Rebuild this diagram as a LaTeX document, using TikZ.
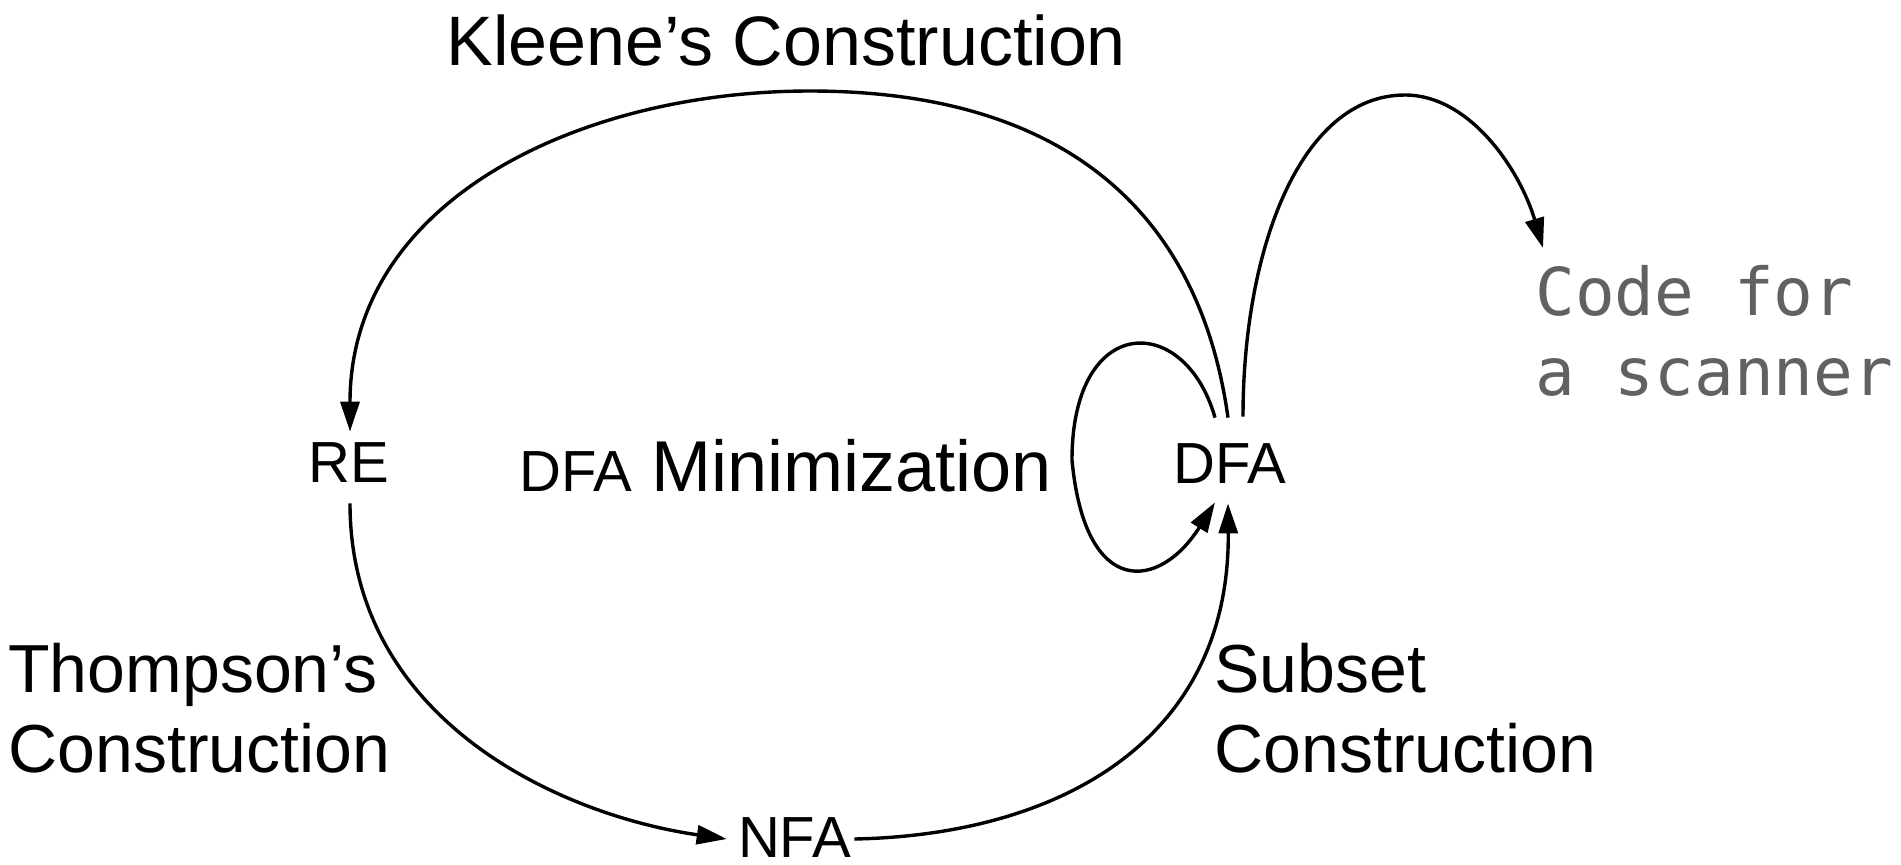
\documentclass[tikz,border=0pt]{standalone}
\usepackage{fontspec}
\setmainfont{Liberation Sans}
\newfontfamily\codefont{DejaVu Sans Mono}
\usetikzlibrary{arrows.meta,calc}
\begin{document}
\begin{tikzpicture}[x=0.5pt,y=-0.5pt,
  conn/.style={line width=1.7pt,-{Triangle[length=15pt,width=9.5pt]}},
  state/.style={inner xsep=4pt,inner ysep=10pt,font=\fontsize{29}{34}\selectfont,text height=21pt,text depth=0pt,anchor=base},
  lbl/.style={inner sep=0pt,font=\fontsize{34}{40}\selectfont,align=left,anchor=base west},
  codelbl/.style={inner sep=0pt,font=\codefont\fontsize{33}{40}\selectfont,text=black!62,align=left,anchor=base west}]
\useasboundingbox (0,0) rectangle (1901,864);
% states
\node[state] (re) at (349,482) {RE};
\node[state] (dfa) at (1230,483) {DFA};
\node[state,inner ysep=2pt] (nfa) at (794.5,857) {NFA};
% labels
\node[lbl,font=\fontsize{35}{40}\selectfont] (kleene) at (446,65) {Kleene’s Construction};
\node[lbl] (thompson) at (8,772) {Thompson’s\\Construction};
\node[lbl] (subset) at (1214,772) {Subset\\Construction};
\node[lbl] (mini) at (519,491) {{\fontsize{29}{34}\selectfont DFA} {\fontsize{36}{40}\selectfont Minimization}};
\node[codelbl] (code) at (1535,395) {Code for\\a scanner};
% connectors
\draw[conn] ($(dfa.north)+(-2,-3)$) .. controls (1200,217) and (1070,91) .. (810,91)
  .. controls (580,91) and (350,200) .. ($(re.north)+(1,12)$);
\draw[conn] ($(re.south)+(1,1)$) .. controls (350,720) and (560,815) .. ($(nfa.west)+(-3,3)$);
\draw[conn] ($(nfa.east)+(-5,3)$) .. controls (1060,835) and (1230,740) .. ($(dfa.south)+(-2,0)$);
\draw[conn] ($(dfa.north)+(-15,-3)$) .. controls (1185,312) and (1072,312) .. (1072,460)
  .. controls (1085,600) and (1160,590) .. ($(dfa.south)+(-15,-1)$);
\draw[conn] ($(dfa.north)+(13,-4)$) .. controls (1243,250) and (1300,95) .. (1405,95)
  .. controls (1470,95) and (1520,170) .. ($(code.base west)+(8,-147)$);
\end{tikzpicture}
\end{document}
